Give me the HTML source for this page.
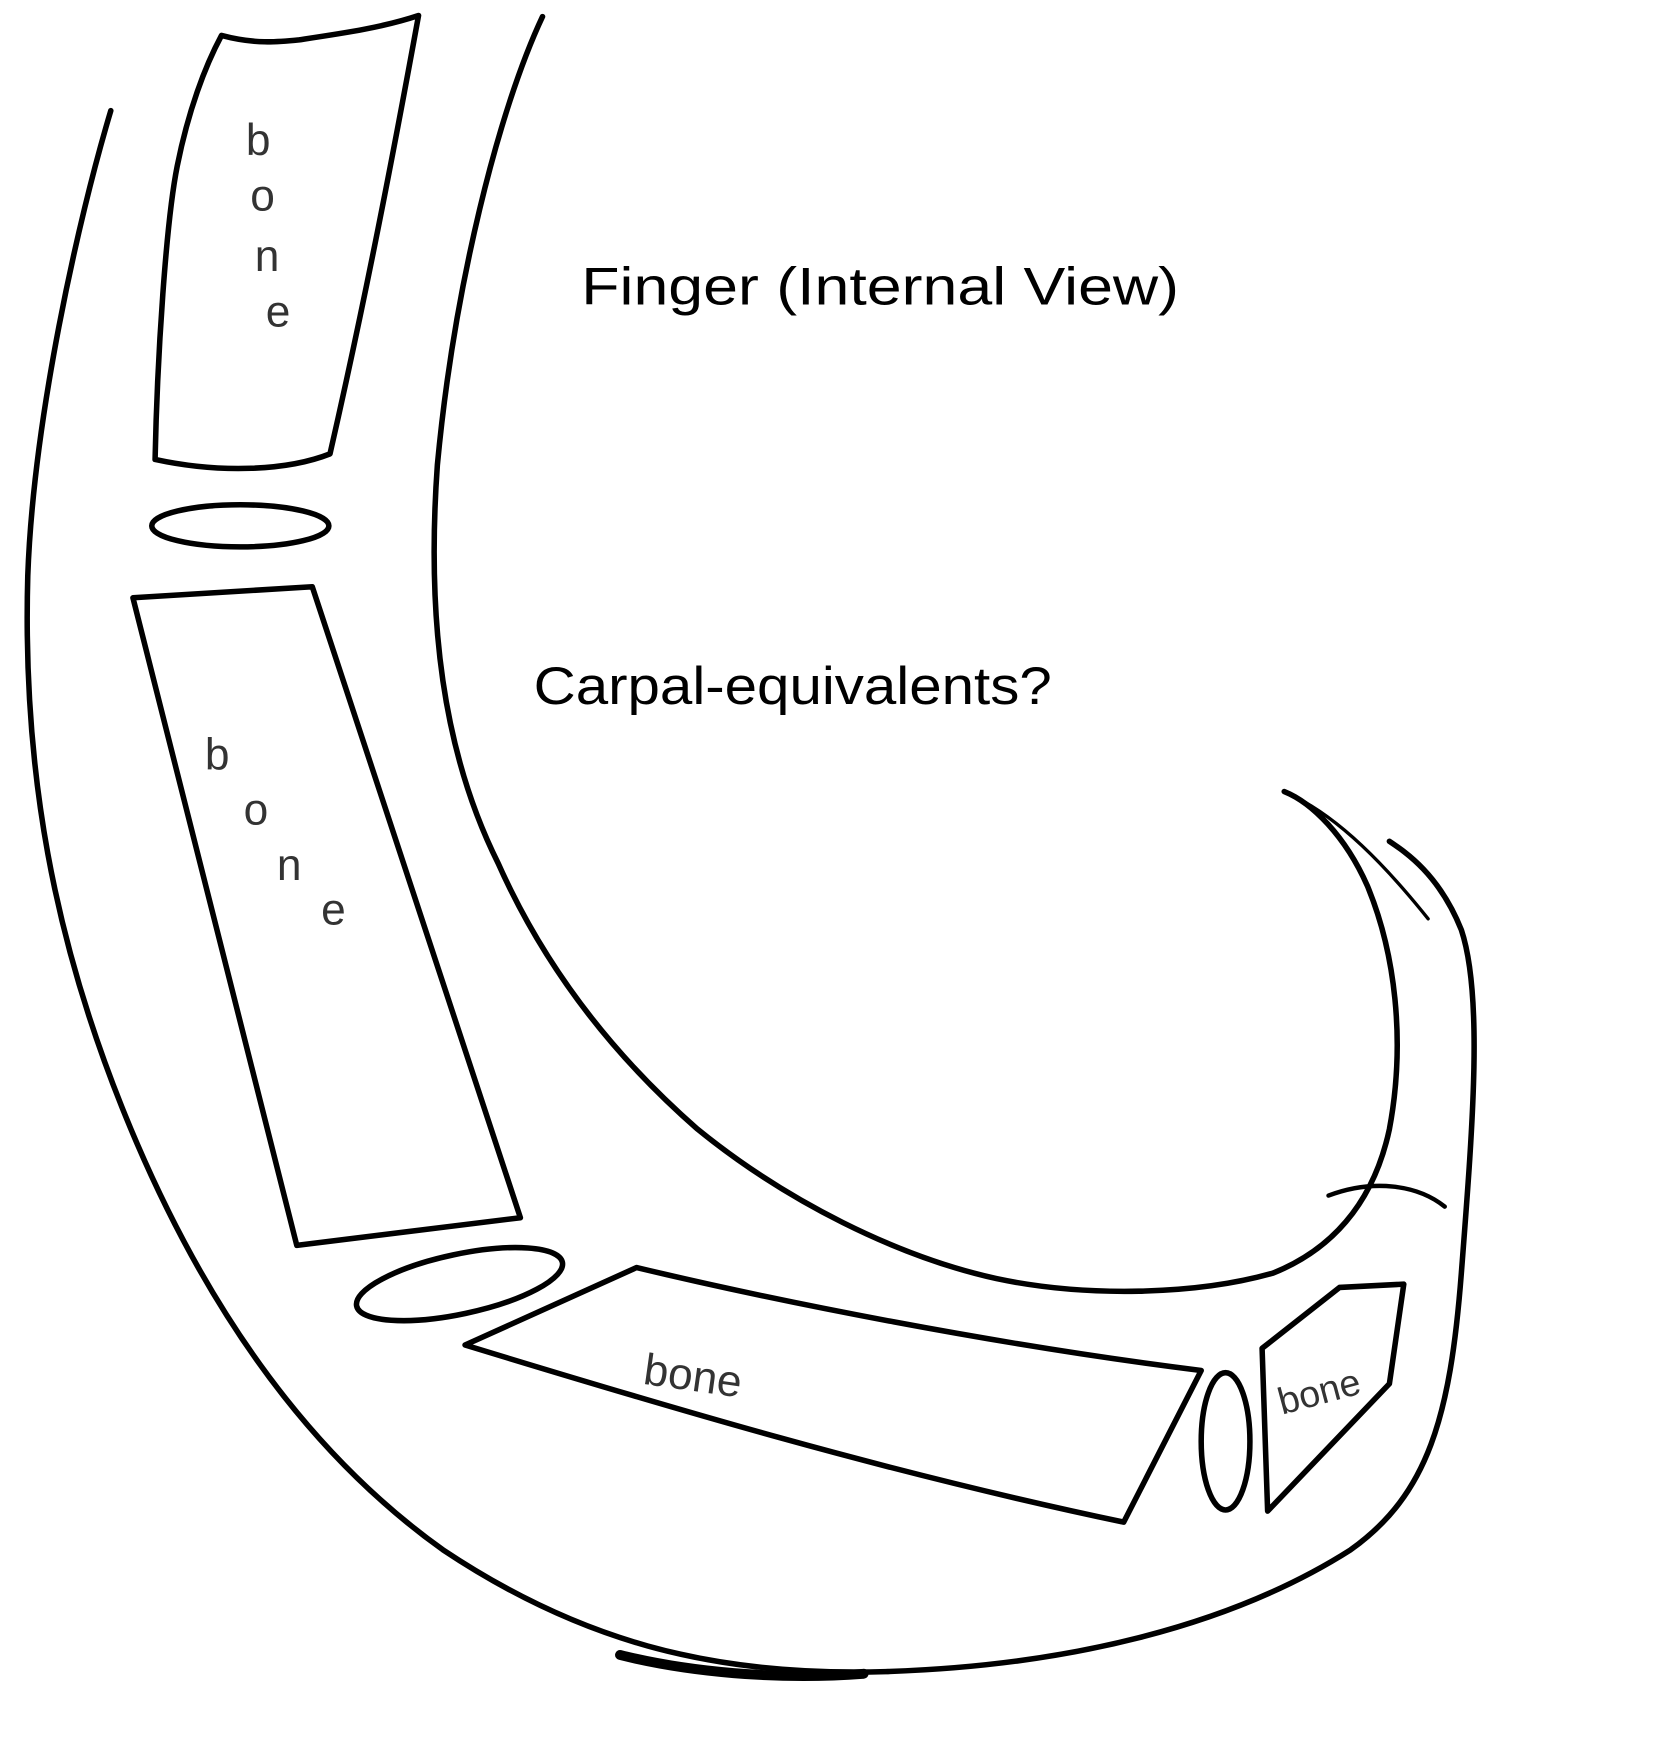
<!DOCTYPE html>
<html><head><meta charset="utf-8"><style>
html,body{margin:0;padding:0;background:#fff;}
svg{display:block;}
</style></head><body>
<svg width="1674" height="1738" viewBox="0 0 1512 1570" xmlns="http://www.w3.org/2000/svg">
<rect width="1512" height="1570" fill="#fff"/>
<g fill="none" stroke="#000" stroke-width="5" stroke-linecap="round" stroke-linejoin="round">
<path d="M100,100 C70,200 30,380 25,520 C20,700 50,850 110,1000 C170,1150 260,1300 400,1400 C520,1480 640,1515 800,1510 C960,1505 1110,1470 1220,1400 C1290,1350 1310,1280 1320,1150 C1330,1020 1340,900 1320,840 C1300,790 1270,770 1255,760"/>
<path d="M490,15 C450,100 410,260 395,420 C385,560 400,680 450,780 C490,870 550,950 630,1020 C710,1085 810,1135 900,1155 C980,1172 1080,1170 1150,1150 C1200,1130 1240,1090 1255,1020 C1270,940 1260,860 1235,800 C1215,755 1185,725 1160,715"/>
<path d="M1170,720 C1210,740 1250,780 1290,830" stroke-width="3"/>
<path d="M1200,1080 C1240,1065 1280,1070 1305,1090" stroke-width="4"/>
<path d="M200,32 C230,40 250,38 270,36 C310,30 345,25 378,14 C355,140 330,270 298,410 C260,425 200,428 140,415 C142,320 150,200 160,150 C170,100 185,60 200,32 Z"/>
<ellipse cx="217" cy="475" rx="80" ry="19"/>
<path d="M120,540 L282,530 L470,1100 L268,1125 Z"/>
<ellipse cx="415" cy="1160" rx="95" ry="27" transform="rotate(-12 415 1160)"/>
<path d="M420,1215 L575,1145 C700,1175 900,1215 1085,1238 L1015,1375 C800,1330 600,1270 420,1215 Z"/>
<ellipse cx="1107" cy="1302" rx="22" ry="62"/>
<path d="M1140,1218 L1210,1163 L1268,1160 L1255,1250 L1145,1365 Z"/>
<path d="M560,1495 C620,1510 700,1518 780,1512" stroke-width="9"/>
</g>
<g font-family="Liberation Sans, sans-serif" fill="#000">
<text x="525" y="275" font-size="48" textLength="540" lengthAdjust="spacingAndGlyphs">Finger (Internal View)</text>
<text x="482" y="636" font-size="48" textLength="468" lengthAdjust="spacingAndGlyphs">Carpal-equivalents?</text>
</g>
<g font-family="Liberation Sans, sans-serif" fill="#333" font-size="40">
<text x="222" y="140">b</text><text x="226" y="190">o</text><text x="230" y="245">n</text><text x="240" y="295">e</text>
<text x="185" y="695">b</text><text x="220" y="745">o</text><text x="250" y="795">n</text><text x="290" y="835">e</text>
<text x="580" y="1250" transform="rotate(8 580 1250)">bone</text>
<text x="1158" y="1278" font-size="34" transform="rotate(-15 1158 1278)">bone</text>
</g>
</svg>
</body></html>
